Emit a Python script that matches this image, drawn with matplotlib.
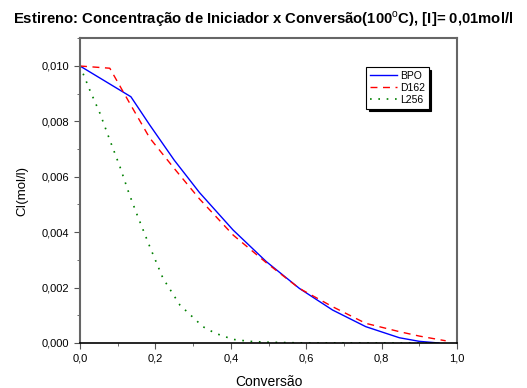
import numpy as np
import matplotlib
matplotlib.use('Agg')
from matplotlib import pyplot as plt
from matplotlib.ticker import MultipleLocator, FuncFormatter

plt.rcParams['font.family'] = ['Liberation Sans', 'DejaVu Sans']
plt.rcParams['mathtext.fontset'] = 'custom'
plt.rcParams['mathtext.bf'] = 'Liberation Sans:bold'
plt.rcParams['mathtext.rm'] = 'Liberation Sans'

# curves
bpo_x = [0.0, 0.135, 0.185, 0.25, 0.317, 0.406, 0.494, 0.582, 0.670, 0.758, 0.847, 0.90, 0.952]
bpo_y = [0.0100, 0.00889, 0.00787, 0.0066, 0.00543, 0.00408, 0.00294, 0.00197, 0.00119, 0.00059, 0.00019, 0.00006, 0.0]

d162_x = [0.0, 0.079, 0.13, 0.185, 0.25, 0.317, 0.406, 0.494, 0.582, 0.670, 0.758, 0.847, 0.90, 0.970]
d162_y = [0.0100, 0.00992, 0.0087, 0.00740, 0.0063, 0.0052, 0.0039, 0.0029, 0.00197, 0.00131, 0.00071, 0.00041, 0.00025, 0.00008]

l256_x = [0.0, 0.026, 0.053, 0.079, 0.106, 0.130, 0.150, 0.185, 0.220, 0.265, 0.326, 0.359, 0.406, 0.45, 0.494, 0.6, 0.8, 0.96]
l256_y = [0.0100, 0.00913, 0.00829, 0.00733, 0.00636, 0.0054, 0.00468, 0.00348, 0.00234, 0.00137, 0.00059, 0.00035, 0.00013, 0.00006, 0.00003, 0.0, 0.0, 0.0]

fig = plt.figure(figsize=(5.27, 3.88), dpi=100)
ax = fig.add_axes([80/527, 45/388, 377/527, 304.7/388])

ax.plot(bpo_x, bpo_y, color='blue', lw=1.0, label='BPO')
ax.plot(d162_x, d162_y, color='red', lw=1.0, ls=(0, (5, 4)), label='D162')
ax.plot(l256_x, l256_y, color='green', lw=1.2, ls=(0, (1, 4)), label='L256')

ax.set_xlim(0, 1.0)
ax.set_ylim(0, 0.011)
ax.xaxis.set_major_locator(MultipleLocator(0.2))
ax.xaxis.set_minor_locator(MultipleLocator(0.1))
ax.yaxis.set_major_locator(MultipleLocator(0.002))
ax.yaxis.set_minor_locator(MultipleLocator(0.001))
ax.xaxis.set_major_formatter(FuncFormatter(lambda v, p: f'{v:.1f}'.replace('.', ',')))
ax.yaxis.set_major_formatter(FuncFormatter(lambda v, p: f'{v:.3f}'.replace('.', ',')))
ax.tick_params(which='both', direction='out', labelsize=8, color='#555555')
ax.tick_params(which='major', length=4)
ax.tick_params(which='minor', length=2.5)
for s in ['left', 'top', 'right']:
    ax.spines[s].set_color('#666666')
    ax.spines[s].set_linewidth(1.5)
ax.spines['bottom'].set_color('black')
ax.spines['bottom'].set_linewidth(1.2)

ax.set_xlabel('Conversão', fontsize=10, labelpad=8)
ax.set_ylabel('CI(mol/l)', fontsize=9.5, labelpad=10)

fig.text(13/527, 1 - 24/388, r'Estireno: Concentração de Iniciador x Conversão(100$^{\mathrm{o}}$C), [I]= 0,01mol/l',
         fontsize=10.7, fontweight='bold', ha='left', va='baseline')

leg = ax.legend(loc='upper left', bbox_to_anchor=((361-80)/377, (343-62)/304.7), fontsize=7.5,
                fancybox=False, shadow={'color': 'black', 'alpha': 1}, borderpad=0.35,
                labelspacing=0.2, handlelength=2.6, handletextpad=0.3, framealpha=1)
leg.get_frame().set_edgecolor('black')
leg.get_frame().set_linewidth(0.8)

plt.savefig('out.png', dpi=100)
